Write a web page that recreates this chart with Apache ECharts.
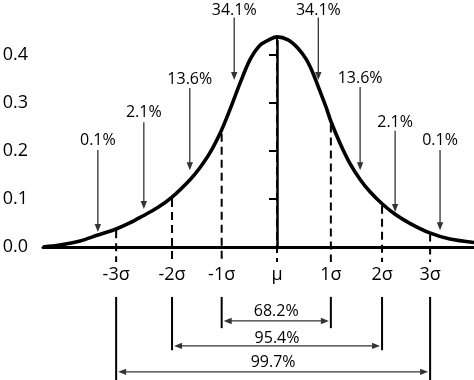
<!DOCTYPE html>
<html><head><meta charset="utf-8">
<script src="https://cdn.jsdelivr.net/npm/echarts@6/dist/echarts.min.js"></script>
<style>html,body{margin:0;padding:0;background:#fff}#c{width:474px;height:380px}</style>
</head><body><div id="c"></div>
<script>
// Curve (x in sigma units from the mean, y density)
const curveX = [-4.48,-4.16,-3.77,-3.43,-3.08,-2.82,-2.57,-2.30,-2.01,-1.67,-1.48,-1.28,-1.07,-0.90,-0.71,-0.52,-0.33,-0.13,0,0.21,0.40,0.56,0.69,0.82,0.94,1.03,1.21,1.40,1.59,1.78,2.01,2.26,2.55,2.91,3.31,3.77];
const curveY = [0.000,0.004,0.0125,0.025,0.0375,0.050,0.0646,0.081,0.104,0.1396,0.1646,0.1969,0.2417,0.2865,0.3406,0.3896,0.4198,0.4327,0.4375,0.4313,0.414,0.3906,0.3615,0.325,0.2906,0.2619,0.215,0.1729,0.1406,0.115,0.090,0.0681,0.0488,0.030,0.0165,0.0094];

// Sigma marks
const sigmaLabels = ['-3σ','-2σ','-1σ','μ','1σ','2σ','3σ'];
const sigmaPos = [-3.08,-2.01,-1.06,0,1.03,2.01,2.93];
const dashTop = [0.035,0.100,0.236,0.4375,0.255,0.086,0.028];
const dashBottom = -0.031;

// Y axis ticks
const yTicks = [0,0.1,0.2,0.3,0.4];
const yTickMarks = [0.1,0.2,0.3,0.4];

// Area percentages with arrows
const pctLabels = ['0.1%','2.1%','13.6%','34.1%','34.1%','13.6%','2.1%','0.1%'];
const arrowX = [-3.43,-2.55,-1.67,-0.82,0.79,1.59,2.26,3.12];
const arrowTop = [0.202,0.260,0.331,0.478,0.478,0.333,0.242,0.202];
const arrowTip = [0.031,0.079,0.160,0.348,0.348,0.160,0.073,0.035];
const pctLabelY = [0.221,0.281,0.348,0.493,0.493,0.350,0.260,0.221];

// Ranges below the axis
const rangeLabels = ['68.2%','95.4%','99.7%'];
const rangeFrom = [-1.06,-2.01,-3.08];
const rangeTo = [1.03,2.01,2.93];
const bracketTop = -0.104;
const bracketBottom = [-0.169,-0.215,-0.29];
const rangeArrowY = [-0.154,-0.206,-0.260];
const rangeLabelY = [-0.135,-0.190,-0.240];

const FONT = '"Open Sans", "DejaVu Sans", sans-serif';
const INK = '#000';
const ARROW = '#333';

const chart = echarts.init(document.getElementById('c'), null, {renderer:'canvas'});

function textEl(x, y, txt, size) {
  return {type:'text', x:x, y:y, style:{text:txt, fill:INK, fontSize:size, fontFamily:FONT, align:'center', verticalAlign:'middle'}};
}

const option = {
  animation: false,
  backgroundColor: '#fff',
  grid: {left:43, right:0, top:41, bottom:133, containLabel:false, outerBoundsMode:'none'},
  xAxis: {
    type:'value', min:-4.48, max:3.77,
    axisLine:{show:true, onZero:true, lineStyle:{color:INK, width:3}},
    axisTick:{show:false},
    splitLine:{show:false},
    axisLabel:{
      customValues: sigmaPos,
      formatter: function(v){ const i = sigmaPos.findIndex(p=>Math.abs(p-v)<1e-6); return i>=0 ? sigmaLabels[i] : ''; },
      margin:19, fontSize:18, color:INK, fontFamily:FONT
    }
  },
  yAxis: {
    type:'value', min:0, max:0.429, interval:0.1,
    axisLine:{show:true, lineStyle:{color:INK, width:2.5}},
    axisTick:{show:true, length:8, customValues:yTickMarks, lineStyle:{color:INK, width:2}},
    splitLine:{show:false},
    axisLabel:{customValues:yTicks, formatter:function(v){return v.toFixed(1);}, margin:15, fontSize:18, color:INK, fontFamily:FONT}
  },
  series: [
    {
      type:'custom', clip:false, z:2,
      data: sigmaPos.map((x,i)=>[x, dashTop[i], dashBottom]),
      encode:{x:0, y:[1,2]},
      renderItem: function(params, api){
        const p0 = api.coord([api.value(0), api.value(1)]);
        const p1 = api.coord([api.value(0), api.value(2)]);
        return {type:'line', shape:{x1:p0[0], y1:p0[1], x2:p1[0], y2:p1[1]}, style:{stroke:INK, lineWidth:2, lineDash:[8,5]}};
      }
    },
    {
      type:'line', z:5, clip:false, symbol:'none', smooth:0.3,
      data: curveX.map((x,i)=>[x, curveY[i]]),
      lineStyle:{color:INK, width:3.6}
    },
    {
      type:'custom', clip:false, z:6,
      data: arrowX.map((x,i)=>[x, arrowTop[i], arrowTip[i], pctLabelY[i]]),
      encode:{x:0, y:[1,2,3]},
      renderItem: function(params, api){
        const x = api.value(0);
        const p0 = api.coord([x, api.value(1)]);
        const p1 = api.coord([x, api.value(2)]);
        const pl = api.coord([x, api.value(3)]);
        const head = 8, hw = 3.2;
        return {type:'group', children:[
          {type:'line', shape:{x1:p0[0], y1:p0[1], x2:p1[0], y2:p1[1]-head+1}, style:{stroke:ARROW, lineWidth:1.3}},
          {type:'polygon', shape:{points:[[p1[0],p1[1]],[p1[0]-hw,p1[1]-head],[p1[0]+hw,p1[1]-head]]}, style:{fill:ARROW}},
          textEl(pl[0], pl[1], pctLabels[params.dataIndex], 16)
        ]};
      }
    },
    {
      type:'custom', clip:false, z:6,
      data: rangeLabels.map((t,i)=>[rangeFrom[i], rangeTo[i], bracketTop, bracketBottom[i], rangeArrowY[i], rangeLabelY[i]]),
      encode:{x:[0,1], y:[2,3,4,5]},
      renderItem: function(params, api){
        const a = api.value(0), b = api.value(1);
        const bt = api.value(2), bb = api.value(3), ay = api.value(4), ly = api.value(5);
        const l0 = api.coord([a, bt]), l1 = api.coord([a, bb]);
        const r0 = api.coord([b, bt]), r1 = api.coord([b, bb]);
        const pa = api.coord([a, ay]), pb = api.coord([b, ay]);
        const pl = api.coord([(a+b)/2, ly]);
        const head = 8, hw = 3.2;
        const ax = pa[0] + 2, bx = pb[0] - 2, y = pa[1];
        return {type:'group', children:[
          {type:'line', shape:{x1:l0[0], y1:l0[1], x2:l1[0], y2:l1[1]}, style:{stroke:INK, lineWidth:2}},
          {type:'line', shape:{x1:r0[0], y1:r0[1], x2:r1[0], y2:r1[1]}, style:{stroke:INK, lineWidth:2}},
          {type:'line', shape:{x1:ax+head-1, y1:y, x2:bx-head+1, y2:y}, style:{stroke:ARROW, lineWidth:1.3}},
          {type:'polygon', shape:{points:[[ax,y],[ax+head,y-hw],[ax+head,y+hw]]}, style:{fill:ARROW}},
          {type:'polygon', shape:{points:[[bx,y],[bx-head,y-hw],[bx-head,y+hw]]}, style:{fill:ARROW}},
          textEl(pl[0], pl[1], rangeLabels[params.dataIndex], 16)
        ]};
      }
    }
  ]
};
chart.setOption(option);
</script>
</body></html>
